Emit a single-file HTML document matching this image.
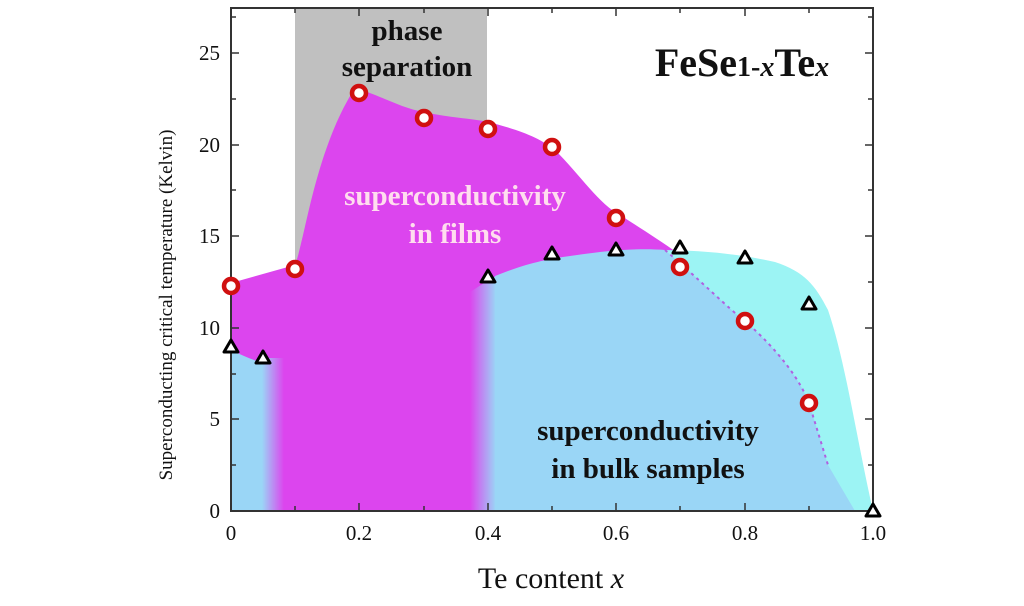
<!DOCTYPE html>
<html><head><style>body{margin:0;background:#fff}svg{display:block}</style></head><body>
<svg width="1024" height="606" viewBox="0 0 1024 606" xmlns="http://www.w3.org/2000/svg" font-family="Liberation Serif, serif">
<defs>
<linearGradient id="gl" x1="0" x2="1"><stop offset="0" stop-color="#9ad6f6"/><stop offset="1" stop-color="#dc45ee"/></linearGradient>
<linearGradient id="gr" x1="0" x2="1"><stop offset="0" stop-color="#9ad6f6" stop-opacity="0"/><stop offset="1" stop-color="#9ad6f6"/></linearGradient>
</defs>
<rect x="295" y="8" width="192" height="300" fill="#c0c0c0"/>
<path d="M231,283 L295,265 C305,240 315,150 355,88 C380,95 400,108 424,112 C450,118 470,118 488,122 C520,130 540,138 555,150 C580,175 600,205 620,215 C640,228 660,240 690,262 L690,511 L231,511 Z" fill="#dc45ee"/>
<path d="M231,350 C245,357 258,362 268,364 L268,511 L231,511 Z" fill="#9ad6f6"/>
<rect x="262" y="358" width="22" height="153" fill="url(#gl)"/>
<path d="M660,250 C700,250 740,254 775,262 C805,272 815,285 828,310 C845,360 855,430 873,511 L660,511 Z" fill="#9cf4f4"/>
<path d="M495,276 C520,266 540,260 570,256 C610,250 640,248 665,250 C700,280 730,310 745,321 C780,352 800,380 809,403 L828,465 L855,511 L495,511 Z" fill="#9ad6f6"/>
<path d="M470,292 C480,286 488,280 496,276 L496,511 L470,511 Z" fill="url(#gr)"/>
<path d="M665,250 C700,280 730,310 745,321 C780,352 800,380 809,403 L828,465" fill="none" stroke="#b060e0" stroke-width="2" stroke-dasharray="3,4"/>
<rect x="231" y="8" width="642" height="503" fill="none" stroke="#333" stroke-width="2"/>
<g stroke="#333" stroke-width="1.5">
<path d="M231,511v-8M295,511v-5M359,511v-8M424,511v-5M488,511v-8M552,511v-5M616,511v-8M680,511v-5M745,511v-8M809,511v-5M231,8v8M295,8v5M359,8v8M424,8v5M488,8v8M552,8v5M616,8v8M680,8v5M745,8v8M809,8v5"/>
<path d="M231,511h8M231,465h5M231,419h8M231,374h5M231,328h8M231,282h5M231,236h8M231,190h5M231,145h8M231,99h5M231,53h8M231,17h5M873,511h-8M873,465h-5M873,419h-8M873,374h-5M873,328h-8M873,282h-5M873,236h-8M873,190h-5M873,145h-8M873,99h-5M873,53h-8M873,17h-5"/>
</g>
<g font-size="21" fill="#111" text-anchor="end">
<text x="220" y="518">0</text><text x="220" y="426">5</text><text x="220" y="335">10</text><text x="220" y="243">15</text><text x="220" y="152">20</text><text x="220" y="60">25</text>
</g>
<g font-size="21" fill="#111" text-anchor="middle">
<text x="231" y="540">0</text><text x="359" y="540">0.2</text><text x="488" y="540">0.4</text><text x="616" y="540">0.6</text><text x="745" y="540">0.8</text><text x="873" y="540">1.0</text>
</g>
<text x="551" y="588" font-size="30" text-anchor="middle" fill="#111">Te content <tspan font-style="italic">x</tspan></text>
<text transform="translate(172,305) rotate(-90)" font-size="19" text-anchor="middle" fill="#111">Superconducting critical temperature (Kelvin)</text>
<g font-weight="bold" text-anchor="middle">
<text x="407" y="40" font-size="29" fill="#111">phase</text>
<text x="407" y="76" font-size="29" fill="#111">separation</text>
<text x="455" y="205" font-size="29" fill="#fde">superconductivity</text>
<text x="455" y="243" font-size="29" fill="#fde">in films</text>
<text x="648" y="440" font-size="29" fill="#111">superconductivity</text>
<text x="648" y="478" font-size="29" fill="#111">in bulk samples</text>
<text x="742" y="76" font-size="40" fill="#111">FeSe<tspan font-size="28">1-<tspan font-style="italic">x</tspan></tspan>Te<tspan font-size="28" font-style="italic">x</tspan></text>
</g>
<g fill="#fff" stroke="#d01010" stroke-width="4.5">
<circle cx="231" cy="286" r="7"/><circle cx="295" cy="269" r="7"/><circle cx="359" cy="93" r="7"/><circle cx="424" cy="118" r="7"/><circle cx="488" cy="129" r="7"/><circle cx="552" cy="147" r="7"/><circle cx="616" cy="218" r="7"/><circle cx="680" cy="267" r="7"/><circle cx="745" cy="321" r="7"/><circle cx="809" cy="403" r="7"/>
</g>
<g fill="#fff" stroke="#000" stroke-width="3" stroke-linejoin="round">
<path d="M231,340l7,12h-14z"/><path d="M263,351l7,12h-14z"/><path d="M488,270l7,12h-14z"/><path d="M552,247l7,12h-14z"/><path d="M616,243l7,12h-14z"/><path d="M680,241l7,12h-14z"/><path d="M745,251l7,12h-14z"/><path d="M809,297l7,12h-14z"/><path d="M873,504l7,12h-14z"/>
</g>
</svg>
</body></html>
